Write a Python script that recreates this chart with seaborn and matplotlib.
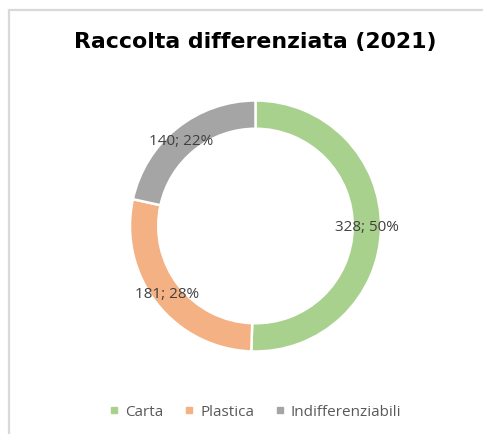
import matplotlib
matplotlib.use("Agg")
import matplotlib.pyplot as plt
import seaborn as sns
import numpy as np
from matplotlib.patches import Rectangle
from matplotlib.lines import Line2D

categories = ["Carta", "Plastica", "Indifferenziabili"]
values = [328, 181, 140]
percent_labels = ["50%", "28%", "22%"]
colors = ["#A9D18E", "#F4B183", "#A5A5A5"]
title = "Raccolta differenziata (2021)"

sns.set_theme(style="white")
plt.rcParams["font.family"] = ["DejaVu Sans"]

W, H = 483, 434
fig = plt.figure(figsize=(W / 100, H / 100), dpi=100)
fig.patch.set_facecolor("white")

# chart area frame (runs off the right and bottom edges)
fig.add_artist(Rectangle((9 / W, -0.1), 1.2, (H - 10) / H + 0.1,
                         transform=fig.transFigure, fill=False,
                         edgecolor="#D9D9D9", linewidth=1.6))

# donut axes: centre (255.5, 226), outer radius 125 px
cx, cy, r = 255.5, 226.0, 125.5
ax = fig.add_axes([(cx - r) / W, (H - cy - r) / H, 2 * r / W, 2 * r / H])
palette = sns.color_palette(colors)
ring = 0.225
wedges, _ = ax.pie(values, colors=palette, startangle=90, counterclock=False,
                   radius=1.0,
                   wedgeprops=dict(width=ring, edgecolor="white", linewidth=1.8))
ax.set_xlim(-1, 1)
ax.set_ylim(-1, 1)
ax.set_aspect("equal")
ax.axis("off")

total = sum(values)
mid_r = 1 - ring / 2
start = 90.0
offsets = [(0.0, 0.0), (0.0, 0.0), (-0.04, -0.02)]
for v, p, (dx, dy) in zip(values, percent_labels, offsets):
    span = 360.0 * v / total
    mid = np.deg2rad(start - span / 2)
    start -= span
    ax.text(mid_r * np.cos(mid) + dx, mid_r * np.sin(mid) + dy, f"{v}; {p}",
            ha="center", va="center", fontsize=11, color="#404040",
            family=["Open Sans", "DejaVu Sans"])

fig.text(cx / W, 1 - 42 / H, title, ha="center", va="center",
         fontsize=15.8, fontweight="bold", color="black",
         family=["DejaVu Sans"])

handles = [Line2D([], [], marker="s", linestyle="", markersize=5,
                  markerfacecolor=c, markeredgecolor=c) for c in colors]
fig.legend(handles, categories, loc="center", bbox_to_anchor=(cx / W, 1 - 412 / H),
           ncol=3, frameon=False, handlelength=0.6, handletextpad=0.4,
           columnspacing=1.4,
           prop=dict(family=["Open Sans", "DejaVu Sans"], size=11),
           labelcolor="#595959")

fig.savefig("out.png", dpi=100, facecolor="white")
